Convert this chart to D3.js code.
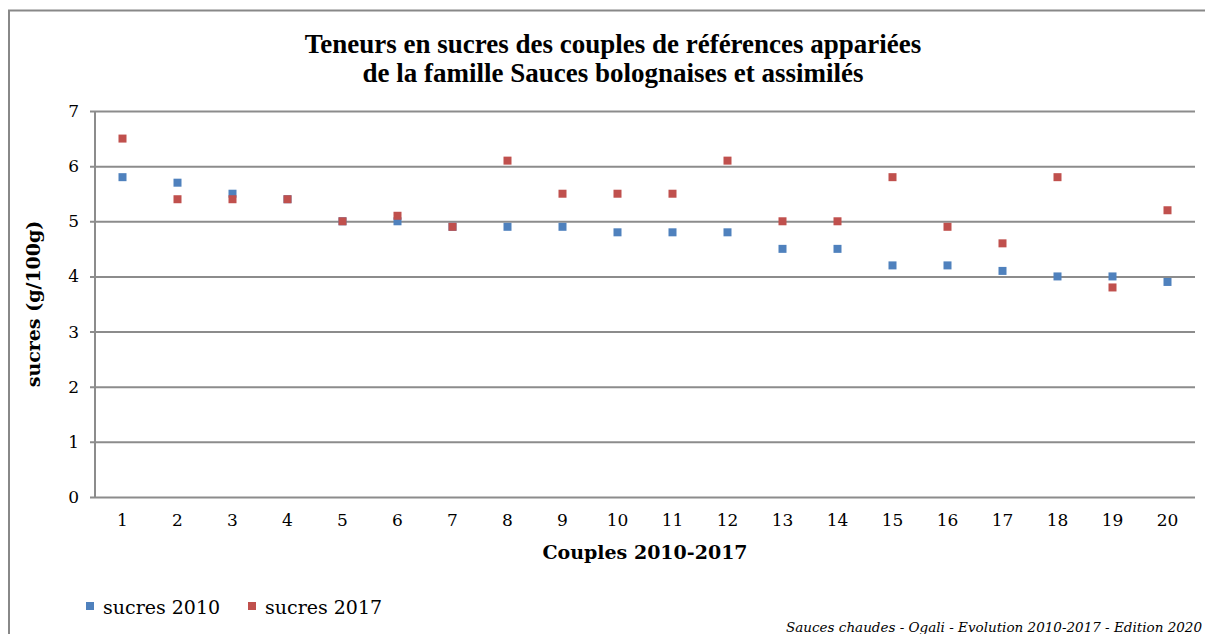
<!DOCTYPE html>
<html>
<head>
<meta charset="utf-8">
<script src="https://cdn.jsdelivr.net/npm/d3@7"></script>
<style>
  body { margin: 0; background: #fff; }
  svg text { font-family: "DejaVu Serif", "Liberation Serif", serif; fill: #000; }
</style>
</head>
<body>
<script>
// data
let couples = d3.range(1, 21);
let sucres2010 = [5.8, 5.7, 5.5, 5.4, 5.0, 5.0, 4.9, 4.9, 4.9, 4.8, 4.8, 4.8, 4.5, 4.5, 4.2, 4.2, 4.1, 4.0, 4.0, 3.9];
let sucres2017 = [6.5, 5.4, 5.4, 5.4, 5.0, 5.1, 4.9, 6.1, 5.5, 5.5, 5.5, 6.1, 5.0, 5.0, 5.8, 4.9, 4.6, 5.8, 3.8, 5.2];
let yTicks = [0, 1, 2, 3, 4, 5, 6, 7];
let seriesNames = ["sucres 2010", "sucres 2017"];
let seriesColors = ["#4F81BD", "#C0504D"];

let w = 1205, h = 634;
let plotL = 95, plotR = 1195, plotT = 111, plotB = 497;

let svg = d3.select("body").append("svg")
    .attr("width", w)
    .attr("height", h);

// outer frame
svg.append("path")
    .attr("d", "M9,640 V10.5 H1210")
    .attr("fill", "none")
    .attr("stroke", "#888")
    .attr("stroke-width", 2);

let xScale = d3.scaleBand()
    .domain(couples)
    .range([plotL, plotR]);

let yScale = d3.scaleLinear()
    .domain([0, 7])
    .range([plotB, plotT]);

// gridlines + y axis
let yAxis = d3.axisLeft(yScale)
    .tickValues(yTicks)
    .tickSize(-(plotR - plotL))
    .tickPadding(16)
    .tickFormat(d3.format("d"));

let gy = svg.append("g")
    .attr("transform", "translate(" + plotL + ",0)")
    .call(yAxis);
gy.select(".domain").remove();
gy.selectAll(".tick line")
    .attr("stroke", "#8c8c8c")
    .attr("stroke-width", 2)
    .attr("x1", -5);
gy.selectAll(".tick text")
    .attr("font-size", 17)
    .attr("fill", "#000");

// vertical axis line
svg.append("line")
    .attr("x1", plotL).attr("x2", plotL)
    .attr("y1", plotT).attr("y2", plotB)
    .attr("stroke", "#8c8c8c")
    .attr("stroke-width", 2);

// x axis labels
let xAxis = d3.axisBottom(xScale)
    .tickSize(0)
    .tickPadding(17);
let gx = svg.append("g")
    .attr("transform", "translate(0," + plotB + ")")
    .call(xAxis);
gx.select(".domain").remove();
gx.selectAll(".tick text")
    .attr("font-size", 17)
    .attr("fill", "#000");

// points
let series = [sucres2010, sucres2017];
series.forEach((vals, s) => {
  svg.append("g")
    .selectAll("rect")
    .data(vals)
    .enter()
    .append("rect")
    .attr("x", (d, i) => xScale(couples[i]) + xScale.bandwidth() / 2 - 4)
    .attr("y", (d) => yScale(d) - 4)
    .attr("width", 8)
    .attr("height", 8)
    .attr("fill", seriesColors[s]);
});

// title
let title = svg.append("text")
    .attr("text-anchor", "middle")
    .style("font-family", "'Liberation Serif', serif")
    .attr("font-weight", "bold")
    .attr("font-size", 27);
title.append("tspan").attr("x", 613).attr("y", 53)
    .text("Teneurs en sucres des couples de références appariées");
title.append("tspan").attr("x", 613).attr("y", 82)
    .text("de la famille Sauces bolognaises et assimilés");

// axis titles
svg.append("text")
    .attr("x", 645).attr("y", 559)
    .attr("text-anchor", "middle")
    .attr("font-weight", "bold")
    .attr("font-size", 19)
    .text("Couples 2010-2017");

svg.append("text")
    .attr("transform", "translate(40,304) rotate(-90)")
    .attr("text-anchor", "middle")
    .attr("font-weight", "bold")
    .attr("font-size", 19)
    .text("sucres (g/100g)");

// legend
let legendX = [86, 248];
seriesNames.forEach((name, i) => {
  svg.append("rect")
    .attr("x", legendX[i]).attr("y", 602)
    .attr("width", 8).attr("height", 8)
    .attr("fill", seriesColors[i]);
  svg.append("text")
    .attr("x", legendX[i] + 17).attr("y", 614)
    .attr("font-size", 19)
    .text(name);
});

// source note
svg.append("text")
    .attr("x", 1202).attr("y", 632)
    .attr("text-anchor", "end")
    .attr("font-style", "italic")
    .attr("font-size", 13.5)
    .text("Sauces chaudes - Ogali - Evolution 2010-2017 - Edition 2020");
</script>
</body>
</html>
